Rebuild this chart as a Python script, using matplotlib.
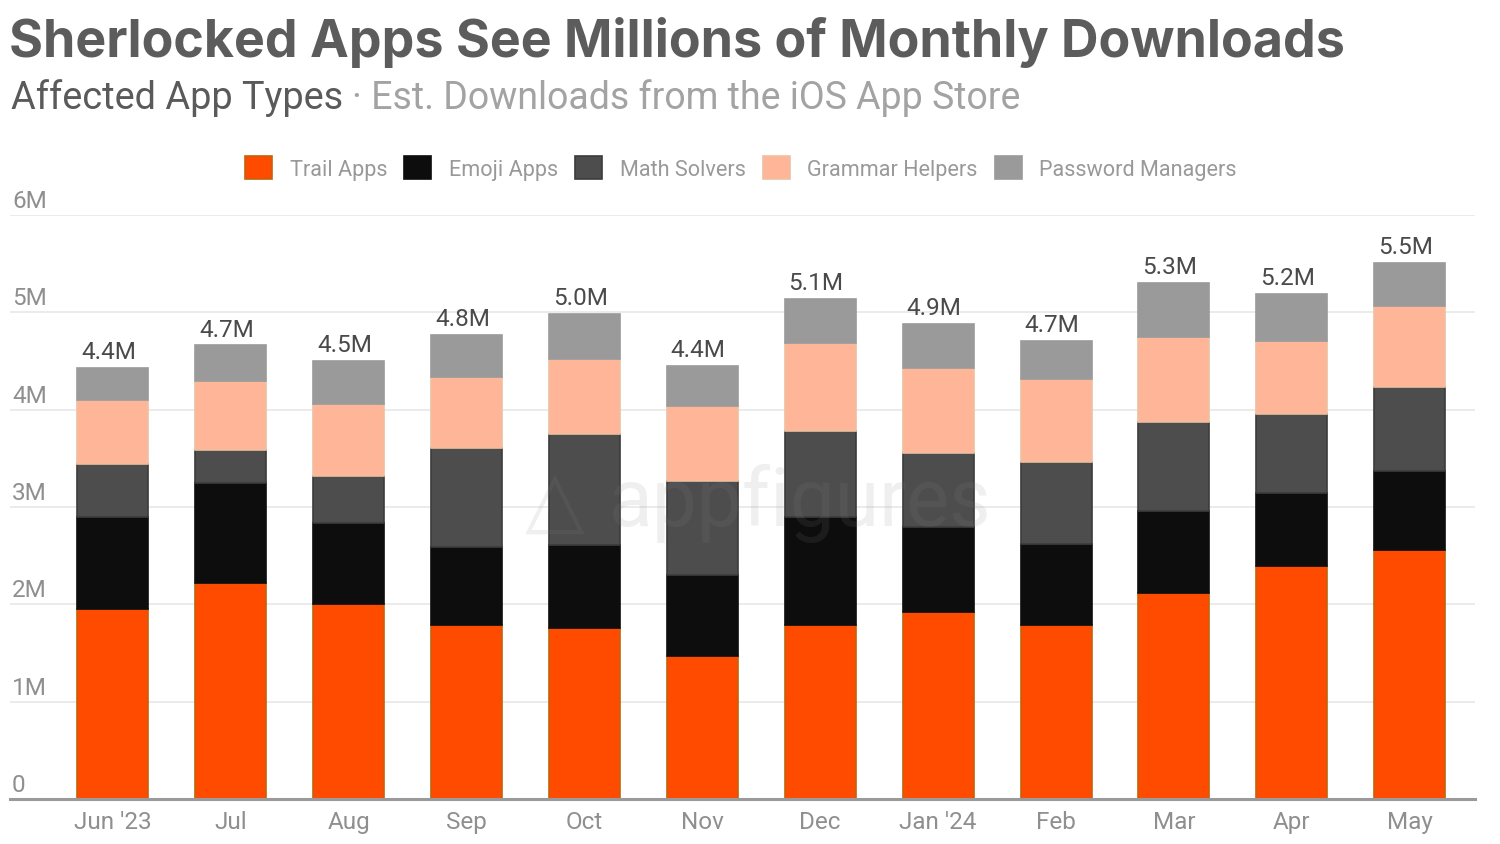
import numpy as np
import matplotlib
matplotlib.use('Agg')
import matplotlib.pyplot as plt
from matplotlib.patches import Patch

months = ['Jun \'23', 'Jul', 'Aug', 'Sep', 'Oct', 'Nov', 'Dec', 'Jan \'24', 'Feb', 'Mar', 'Apr', 'May']
totals = ['4.4M', '4.7M', '4.5M', '4.8M', '5.0M', '4.4M', '5.1M', '4.9M', '4.7M', '5.3M', '5.2M', '5.5M']

# monthly downloads in millions
trail = [1.95, 2.22, 2.00, 1.79, 1.76, 1.47, 1.79, 1.92, 1.79, 2.12, 2.39, 2.56]
emoji = [0.95, 1.03, 0.84, 0.80, 0.85, 0.83, 1.11, 0.87, 0.83, 0.84, 0.75, 0.81]
math_solvers = [0.54, 0.34, 0.48, 1.02, 1.14, 0.97, 0.88, 0.76, 0.84, 0.91, 0.82, 0.86]
grammar = [0.66, 0.70, 0.74, 0.73, 0.77, 0.77, 0.90, 0.88, 0.85, 0.88, 0.75, 0.83]
passwords = [0.33, 0.37, 0.44, 0.43, 0.46, 0.41, 0.46, 0.45, 0.40, 0.55, 0.48, 0.45]

series = [trail, emoji, math_solvers, grammar, passwords]
names = ['Trail Apps', 'Emoji Apps', 'Math Solvers', 'Grammar Helpers', 'Password Managers']
colors = ['#ff4b00', '#0d0d0d', '#4d4d4d', '#ffb598', '#9a9a9a']
edges = ['#c4620c', '#0d0d0d', '#3c3c3c', '#ecc0a0', '#9a9a9a']

W, H = 1500, 845
X0, STEP = 112.8, 117.9
plt.rcParams['font.family'] = ['Roboto', 'DejaVu Sans']

fig = plt.figure(figsize=(W / 100, H / 100), dpi=100, facecolor='white')
# axes box in pixels: left 10, right 1475, top 216 (6M), bottom 800 (0)
ax = fig.add_axes([10 / W, 1 - 800 / H, 1465 / W, 584 / H])
ax.set_xlim((10 - X0) / STEP, (1475 - X0) / STEP)
ax.set_ylim(0, 6)

x = np.arange(len(months))
bottom = np.zeros(len(months))
for vals, name, col, edge in zip(series, names, colors, edges):
    ax.bar(x, vals, width=71 / STEP, bottom=bottom, color=col, edgecolor=edge, linewidth=1.2, zorder=3, label=name)
    bottom = bottom + np.array(vals)

ax.set_yticks(range(7))
ax.set_yticklabels([])
ax.yaxis.grid(True, color='#e9e9e9', linewidth=1.3, zorder=0)
ax.set_axisbelow(True)
ax.tick_params(axis='y', length=0)
ax.set_xticks(x)
ax.set_xticklabels(months, fontsize=17.5, color='#8f8f8f')
ax.tick_params(axis='x', length=0, pad=8)
for s in ['top', 'right', 'left']:
    ax.spines[s].set_visible(False)
ax.spines['bottom'].set_color('#9a9a9a')
ax.spines['bottom'].set_linewidth(2.2)
ax.spines['bottom'].set_zorder(4)

# y labels sit on top of the gridlines at the left
ylabels = ['0', '1M', '2M', '3M', '4M', '5M', '6M']
for i, lab in enumerate(ylabels):
    ax.text(ax.get_xlim()[0] + 2 / STEP, i + 0.03, lab, fontsize=17.5, color='#8f8f8f', ha='left', va='bottom')

# totals above the stacks, slightly left of centre as in the original
for xi, top, lab in zip(x, bottom, totals):
    ax.text(xi - 4 / STEP, top + 0.05, lab, fontsize=17.5, color='#4a4a4a', ha='center', va='bottom', zorder=5)

fig.text(9 / W, 1 - 42 / H, 'Sherlocked Apps See Millions of Monthly Downloads', fontsize=37.45, fontweight='bold',
         family=['Inter', 'DejaVu Sans'], color='#5c5c5c', ha='left', va='center')
fig.text(11 / W, 1 - 98 / H, 'Affected App Types', fontsize=27.3, color='#5a5a5a', ha='left', va='center')
fig.text(352 / W, 1 - 98 / H, '\u00b7 Est. Downloads from the iOS App Store', fontsize=27, color='#a3a3a3', ha='left', va='center')

# faint watermark
fig.text(800 / W, 1 - 503 / H, 'appfigures', fontsize=58, color='#888888', alpha=0.13, ha='center', va='center', zorder=10)
fig.text(555 / W, 1 - 503 / H, '\u25b3', fontsize=56, fontweight='bold', family=['DejaVu Sans'], color='#888888', alpha=0.13,
         ha='center', va='center', zorder=10)

handles = [Patch(facecolor=c, edgecolor=e, linewidth=1.2) for c, e in zip(colors, edges)]
fig.legend(handles, names, loc='center', bbox_to_anchor=(741 / W, 1 - 169 / H), ncols=5, frameon=False, fontsize=15.6,
           labelcolor='#999999', handlelength=1.25, handleheight=1.25, handletextpad=0.8, columnspacing=0.8)

fig.savefig('out.png', dpi=100)
